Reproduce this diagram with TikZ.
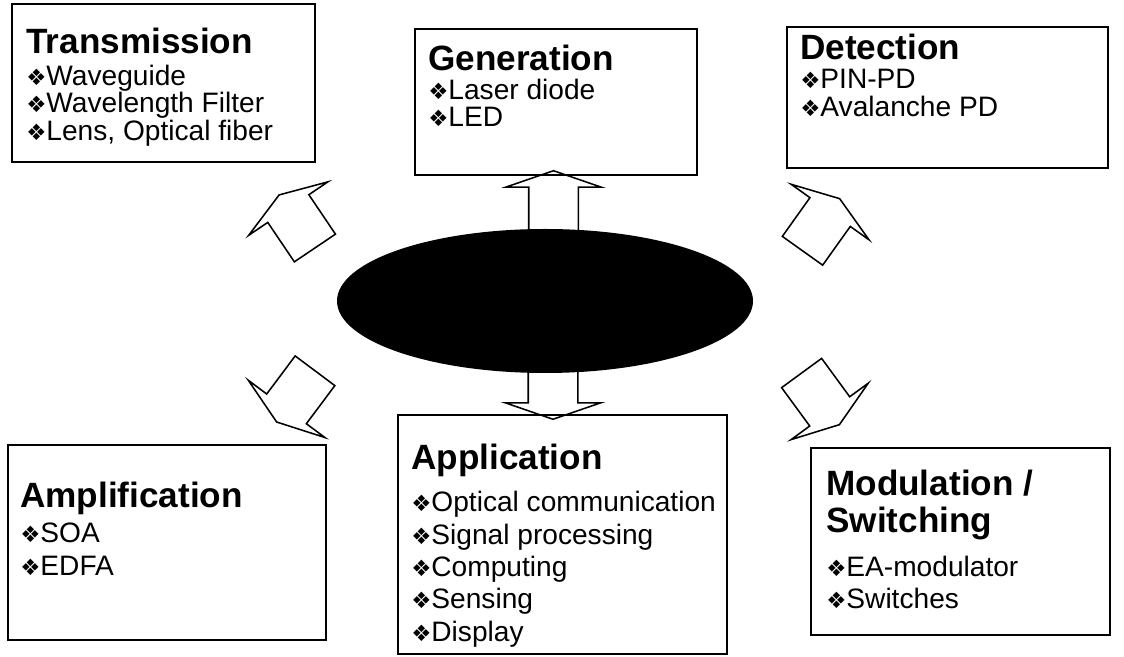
\documentclass[tikz,border=0pt]{standalone}
\usepackage{fontspec}
\setmainfont{Liberation Sans}
\newfontfamily\dingfont{DejaVu Sans}
\usetikzlibrary{shapes.arrows,shapes.geometric,positioning}

% fonts for the panel texts
\newcommand{\ttl}{\bfseries\fontsize{25}{26.5}\selectfont}
\newcommand{\itemfont}{\fontsize{20}{19}\selectfont\lineskiplimit=-30pt}
\newcommand{\itemfontwide}{\fontsize{20}{23}\selectfont\lineskiplimit=-30pt}
\newcommand{\itm}{{\dingfont\fontsize{16}{16}\selectfont ❖}}

\begin{document}
\begin{tikzpicture}[
    panel/.style={draw, line width=0.9pt, rectangle, inner sep=0pt},
    paneltext/.style={align=left, inner sep=0pt, anchor=north west},
    blockarrow/.style={single arrow, draw, fill=white, line width=1.1pt,
        inner xsep=0pt, inner ysep=0.6cm, minimum height=1.6cm,
        single arrow head extend=0.575cm, single arrow tip angle=142}
]
    \useasboundingbox (0,0) rectangle (28.1,16.425);

    % Block arrows (drawn first, the hub hides the inner shaft ends)
    \node[blockarrow, rotate=90] (toGen) at (13.8375,11.25) {};
    \node[blockarrow, rotate=-90] (toApp) at (13.825,6.85) {};
    \node[blockarrow, rotate=124] (toTrans) at (7.485,10.8) {};
    \node[blockarrow, rotate=54.5] (toDet) at (20.465,10.72) {};
    \node[blockarrow, rotate=233.2] (toAmp) at (7.46,6.6) {};
    \node[blockarrow, rotate=-53.8] (toMod) at (20.45,6.54) {};

    % Hub
    \node[ellipse, fill=black, inner sep=0pt, minimum width=10.4cm, minimum height=3.6cm] (hub) at (13.625,8.9) {};

    % Panels
    \node[panel, minimum width=7.575cm, minimum height=3.95cm] (trans) at (4.0875,14.35) {};
    \node[panel, minimum width=7.05cm, minimum height=3.65cm] (gen) at (13.9,13.875) {};
    \node[panel, minimum width=8.025cm, minimum height=3.525cm] (det) at (23.6875,13.9875) {};
    \node[panel, minimum width=7.95cm, minimum height=4.875cm] (amp) at (4.175,2.8625) {};
    \node[panel, minimum width=8.225cm, minimum height=5.975cm] (app) at (14.0625,3.0625) {};
    \node[panel, minimum width=7.475cm, minimum height=4.675cm] (mod) at (24.0125,2.8875) {};

    % Panel texts
    \node[paneltext, font=\itemfont] (transTxt) at (0.65,15.725)
        {{\ttl Transmission}\\[3.5pt] \itm Waveguide\\[0.5pt] \itm Wavelength Filter\\[0.5pt] \itm Lens, Optical fiber};
    \node[paneltext, font=\itemfont] (genTxt) at (10.7,15.3)
        {{\ttl Generation}\\[1.5pt] \itm Laser diode\\[0pt] \itm LED};
    \node[paneltext, font=\itemfont] (detTxt) at (20.0,15.575)
        {{\ttl Detection}\\[1.5pt] \itm PIN-PD\\[1pt] \itm Avalanche PD};
    \node[paneltext, font=\itemfontwide] (ampTxt) at (0.5,4.375)
        {{\ttl Amplification}\\[2pt] \itm SOA\\ \itm EDFA};
    \node[paneltext, font=\itemfontwide] (appTxt) at (10.275,5.325)
        {{\ttl Application}\\[7pt] \itm Optical communication\\ \itm Signal processing\\ \itm Computing\\ \itm Sensing\\ \itm Display};
    \node[paneltext, font=\itemfontwide] (modTxt) at (20.65,4.675)
        {{\ttl Modulation /}\\[3.3pt] {\ttl Switching}\\[8pt] \itm EA-modulator\\ \itm Switches};
\end{tikzpicture}
\end{document}
